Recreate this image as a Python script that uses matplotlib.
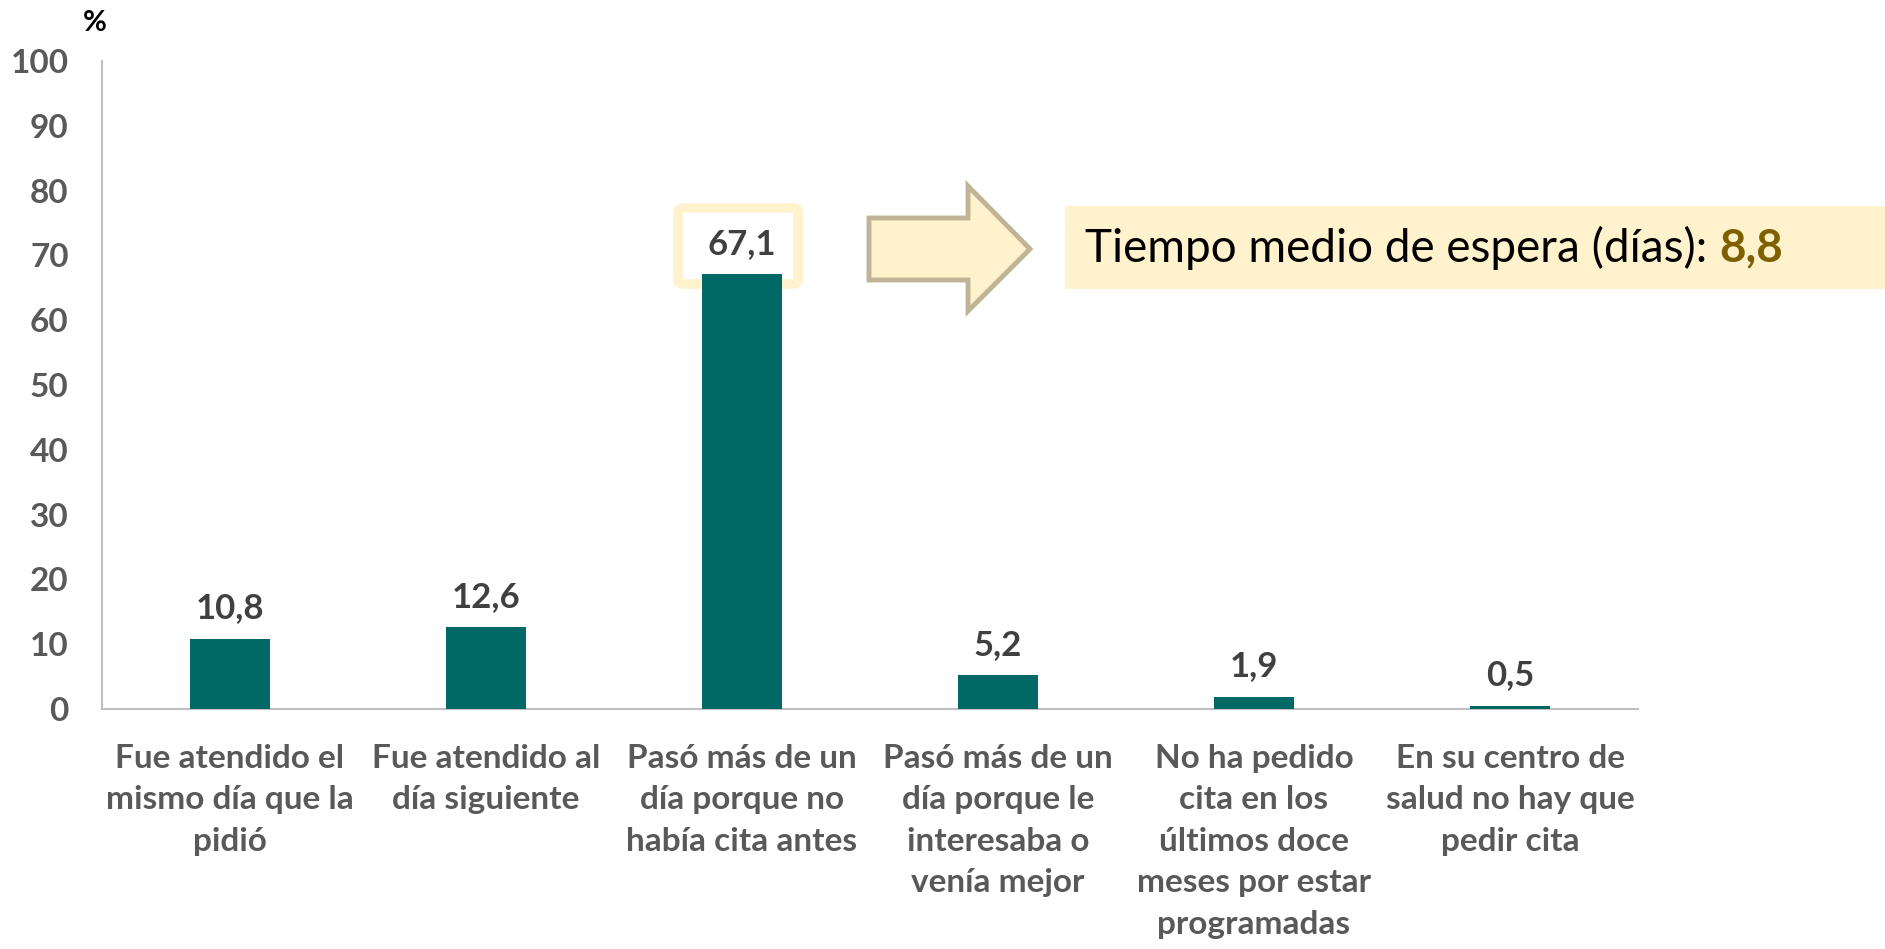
import matplotlib.pyplot as plt
from matplotlib.patches import FancyBboxPatch, Polygon, Rectangle

categories = [
    "Fue atendido el\nmismo día que la\npidió",
    "Fue atendido al\ndía siguiente",
    "Pasó más de un\ndía porque no\nhabía cita antes",
    "Pasó más de un\ndía porque le\ninteresaba o\nvenía mejor",
    "No ha pedido\ncita en los\núltimos doce\nmeses por estar\nprogramadas",
    "En su centro de\nsalud no hay que\npedir cita",
]
values = [10.8, 12.6, 67.1, 5.2, 1.9, 0.5]
value_labels = ["10,8", "12,6", "67,1", "5,2", "1,9", "0,5"]
yticks = list(range(0, 101, 10))
mean_text = "Tiempo medio de espera (días): "
mean_value = "8,8"

plt.rcParams['font.family'] = ['Lato', 'DejaVu Sans']

W, H = 1885, 949
fig = plt.figure(figsize=(W / 100, H / 100), dpi=100)


def fx(x):
    return x / W


def fy(y):
    return 1 - y / H


ax = fig.add_axes([fx(102), fy(709), fx(1638) - fx(102), fy(61) - fy(709)])
ax.set_facecolor('none')

x = list(range(len(categories)))
ax.bar(x, values, width=0.31, color='#006865', zorder=3)
for xi, v, lab in zip(x, values, value_labels):
    ax.annotate(lab, (xi, v), xytext=(0, 22), textcoords='offset points',
                ha='center', va='center', fontsize=25, fontweight='bold',
                color='#404040')

ax.set_xlim(-0.5, len(categories) - 0.5)
ax.set_ylim(0, 100)
ax.set_yticks(yticks)
ax.set_yticklabels([str(t) for t in yticks], fontsize=24, fontweight='bold',
                   color='#595959')
ax.set_xticks(x)
ax.set_xticklabels(categories, fontsize=24, fontweight='bold', color='#595959',
                   linespacing=1.52, va='top')
ax.tick_params(axis='y', length=0, pad=24)
ax.tick_params(axis='x', length=0, pad=25)
for s in ['top', 'right']:
    ax.spines[s].set_visible(False)
for s in ['left', 'bottom']:
    ax.spines[s].set_color('#BFBFBF')
    ax.spines[s].set_linewidth(1.5)

fig.text(fx(95), fy(23), "%", ha='center', va='center', fontsize=21,
         fontweight='bold', color='black')

# highlight around the biggest bar label
box = FancyBboxPatch((fx(678), fy(284)), fx(803) - fx(678) - fx(5), fy(208) - fy(284),
                     boxstyle="round,pad=0.0,rounding_size=0.004",
                     transform=fig.transFigure, facecolor='none',
                     edgecolor='#FFF2CC', linewidth=7, zorder=-1)
fig.patches.append(box)

# arrow
pts = [(869, 218), (968, 218), (968, 186), (1030, 249), (968, 311), (968, 280), (869, 280)]
arrow = Polygon([(fx(a), fy(b)) for a, b in pts], closed=True,
                transform=fig.transFigure, facecolor='#FFF2CC',
                edgecolor='#BFB496', linewidth=3.5, joinstyle='miter')
fig.patches.append(arrow)

# text box
rect = Rectangle((fx(1065), fy(289)), fx(1885) - fx(1065), fy(206) - fy(289),
                 transform=fig.transFigure, facecolor='#FFF2CC', edgecolor='none')
fig.patches.append(rect)
t = fig.text(fx(1085), fy(248), mean_text, ha='left', va='center', fontsize=33,
             color='black')
fig.canvas.draw()
bb = t.get_window_extent()
fig.text(bb.x1 / W, fy(248), mean_value, ha='left', va='center', fontsize=33,
         fontweight='bold', color='#7F6000')

fig.savefig('out.png', dpi=100)
